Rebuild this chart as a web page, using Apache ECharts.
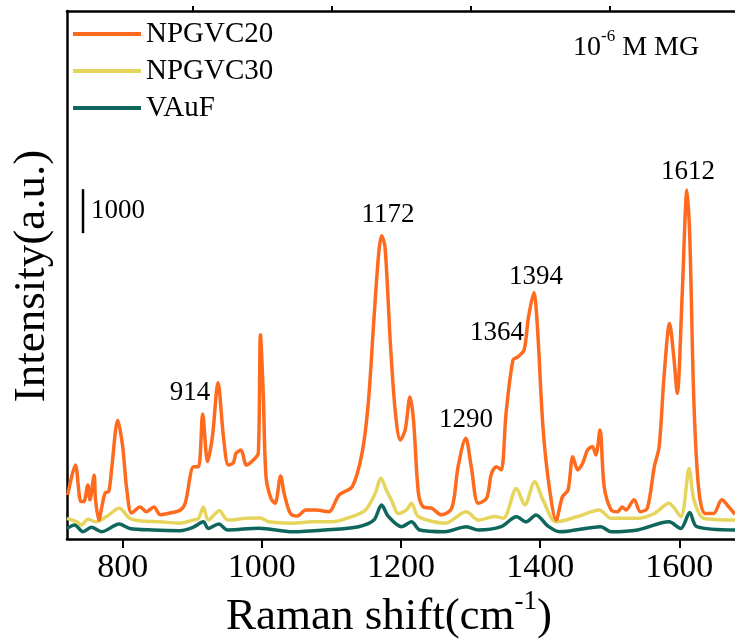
<!DOCTYPE html>
<html>
<head>
<meta charset="utf-8">
<title>Raman spectra</title>
<script src="https://cdn.jsdelivr.net/npm/echarts@6/dist/echarts.min.js"></script>
<style>
  html, body { margin: 0; padding: 0; background: #fff; }
  #chart { width: 735px; height: 643px; }
</style>
</head>
<body>
<div id="chart"></div>
<script>
// [Raman shift (cm-1), intensity]
const npgvc20 = [
  [721, 1000], [732, 1680], [740, 850], [744, 850], [750, 1230], [753, 890], [759, 1450],
  [761, 890], [766, 430], [770, 730], [775, 1050], [780, 1080], [784, 1570], [793, 2700],
  [800, 2100], [806, 1110], [813, 590], [825, 730], [834, 620], [845, 730], [854, 550],
  [868, 590], [883, 660], [890, 820], [902, 1640], [909, 1640], [915, 2840], [922, 1760],
  [929, 2330], [937, 3550], [945, 2300], [952, 1680], [959, 1730], [963, 1950], [970, 2020],
  [978, 1680], [990, 1830], [995, 1950], [998, 4640], [1002, 3320], [1006, 1420], [1013, 925],
  [1019, 810], [1027, 1430], [1032, 1040], [1041, 580], [1051, 520], [1063, 660], [1077, 660],
  [1096, 620], [1111, 1000], [1130, 1190], [1144, 1950], [1153, 3090], [1161, 4980],
  [1168, 6500], [1172, 6890], [1177, 6640], [1185, 4370], [1192, 2860], [1199, 2250],
  [1206, 2480], [1213, 3230], [1218, 2700], [1225, 1050], [1232, 730], [1244, 700],
  [1258, 550], [1273, 700], [1282, 1640], [1293, 2290], [1301, 1640], [1311, 810], [1323, 925],
  [1330, 1490], [1337, 1640], [1344, 1570], [1351, 2860], [1361, 4070], [1368, 4140],
  [1377, 4300], [1383, 5020], [1391, 5600], [1396, 4830], [1404, 2550], [1413, 1190],
  [1423, 430], [1432, 960], [1440, 1110], [1447, 1870], [1454, 1570], [1461, 1720],
  [1468, 2020], [1475, 2100], [1480, 1910], [1486, 2480], [1492, 1190], [1502, 660],
  [1511, 620], [1518, 730], [1523, 660], [1535, 890], [1544, 620], [1554, 700], [1564, 1640],
  [1571, 2100], [1578, 3690], [1586, 4900], [1592, 4140], [1597, 3310], [1604, 5510],
  [1611, 7930], [1615, 6870], [1621, 3080], [1628, 1110], [1637, 580], [1649, 580],
  [1661, 890], [1671, 730], [1680, 560]
];
const npgvc30 = [
  [720, 470], [734, 390], [741, 320], [750, 450], [762, 390], [777, 510], [795, 700],
  [810, 470], [824, 415], [853, 390], [882, 360], [901, 430], [909, 470], [916, 730],
  [923, 430], [939, 640], [951, 430], [977, 470], [998, 480], [1010, 390], [1044, 360],
  [1072, 390], [1101, 390], [1130, 510], [1149, 660], [1163, 1040], [1171, 1380],
  [1180, 1075], [1187, 860], [1196, 580], [1208, 660], [1215, 810], [1225, 510], [1263, 360],
  [1294, 620], [1311, 430], [1335, 510], [1347, 470], [1366, 1150], [1378, 770], [1392, 1300],
  [1404, 890], [1423, 390], [1454, 510], [1485, 660], [1502, 470], [1540, 470], [1564, 580],
  [1585, 810], [1602, 510], [1614, 1600], [1621, 890], [1635, 470], [1680, 430]
];
const vauf = [
  [720, 240], [731, 320], [743, 165], [755, 265], [770, 165], [795, 340], [810, 240],
  [843, 205], [882, 190], [901, 265], [916, 390], [923, 240], [938, 340], [951, 205],
  [996, 245], [1044, 165], [1091, 205], [1139, 280], [1161, 430], [1172, 770], [1182, 510],
  [1201, 280], [1215, 390], [1227, 205], [1263, 165], [1294, 280], [1311, 205], [1344, 280],
  [1366, 505], [1380, 390], [1394, 545], [1411, 295], [1428, 165], [1487, 280], [1502, 165],
  [1540, 205], [1585, 390], [1602, 240], [1615, 600], [1625, 280], [1680, 205]
];
const seriesNames = ['NPGVC20', 'NPGVC30', 'VAuF'];
const seriesColors = ['#ff6b1e', '#e6d55c', '#0f665c'];
const xTicks = [800, 1000, 1200, 1400, 1600];
const xMinorTicks = [900, 1100, 1300, 1500];
const peakLabels = ['914', '1172', '1290', '1364', '1394', '1612'];
const scaleBar = [6950, 7950]; // 1000 a.u.

const serif = 'Liberation Serif, Times New Roman, serif';
const frameLine = { color: '#000', width: 2.5 };
const chart = echarts.init(document.getElementById('chart'));

chart.setOption({
  animation: false,
  backgroundColor: '#fff',
  grid: { left: 67, top: 11, right: -3, bottom: 104 },
  legend: {
    data: seriesNames,
    orient: 'vertical',
    left: 73, top: 19,
    padding: 0,
    icon: 'rect',
    itemWidth: 68, itemHeight: 4, itemGap: 7,
    textStyle: { fontFamily: serif, fontSize: 29, lineHeight: 30, color: '#000' }
  },
  xAxis: [{
    type: 'value', min: 720, max: 1680,
    axisLine: { lineStyle: frameLine },
    splitLine: { show: false },
    axisTick: { customValues: xTicks, length: 9, lineStyle: { color: '#000', width: 2 } },
    axisLabel: {
      customValues: xTicks, fontFamily: serif, fontSize: 34, color: '#000', margin: 12,
      formatter: v => String(v)
    }
  }, {
    type: 'value', min: 720, max: 1680,
    axisLine: { show: false },
    splitLine: { show: false },
    axisTick: { customValues: xMinorTicks, length: 5, lineStyle: { color: '#000', width: 2 } },
    axisLabel: { show: false }
  }, {
    type: 'value', min: 720, max: 1680, position: 'top',
    axisLine: { lineStyle: frameLine },
    splitLine: { show: false },
    axisTick: { show: false },
    axisLabel: { show: false }
  }],
  yAxis: {
    type: 'value', min: 0, max: 12000,
    axisLine: { show: true, lineStyle: frameLine },
    axisTick: { show: false },
    axisLabel: { show: false },
    splitLine: { show: false }
  },
  series: [npgvc20, npgvc30, vauf].map((d, i) => ({
    name: seriesNames[i],
    type: 'line',
    data: d,
    showSymbol: false,
    smooth: 0.3,
    color: seriesColors[i],
    lineStyle: { width: 3.5 },
    z: 5 - i
  }))
});

// scale bar from data units
const barTop = chart.convertToPixel({ gridIndex: 0 }, [720, scaleBar[1]]);
const barBot = chart.convertToPixel({ gridIndex: 0 }, [720, scaleBar[0]]);
const barX = 83;

const peakPos = [[190, 393], [388, 215], [466, 420], [497, 333], [536, 277], [688, 172]];

chart.setOption({
  graphic: [
    {
      type: 'line',
      shape: { x1: barX, y1: barTop[1], x2: barX, y2: barBot[1] },
      style: { stroke: '#000', lineWidth: 2.5 }
    },
    {
      type: 'text', x: barX + 8, y: (barTop[1] + barBot[1]) / 2,
      style: { text: '1000', font: '27px ' + serif, fill: '#000', textVerticalAlign: 'middle' }
    },
    ...peakLabels.map((t, i) => ({
      type: 'text', x: peakPos[i][0], y: peakPos[i][1],
      style: { text: t, font: '27px ' + serif, fill: '#000', textAlign: 'center', textVerticalAlign: 'middle' }
    })),
    {
      type: 'text', x: 573, y: 28,
      style: {
        text: '{a|10}{s|-6}{a| M MG}',
        fill: '#000',
        rich: {
          a: { fontFamily: serif, fontSize: 28, lineHeight: 34, verticalAlign: 'bottom' },
          s: { fontFamily: serif, fontSize: 17, lineHeight: 17, verticalAlign: 'top' }
        }
      }
    },
    {
      type: 'text', x: 389, y: 588,
      style: {
        text: '{a|Raman shift(cm}{s|-1}{a|)}',
        fill: '#000',
        textAlign: 'center',
        rich: {
          a: { fontFamily: serif, fontSize: 45, lineHeight: 52, verticalAlign: 'bottom' },
          s: { fontFamily: serif, fontSize: 27, lineHeight: 27, verticalAlign: 'top' }
        }
      }
    },
    {
      type: 'text', x: 32, y: 276, rotation: Math.PI / 2,
      style: {
        text: 'Intensity(a.u.)', font: '45px ' + serif, fill: '#000',
        textAlign: 'center', textVerticalAlign: 'middle'
      }
    }
  ]
});
</script>
</body>
</html>
